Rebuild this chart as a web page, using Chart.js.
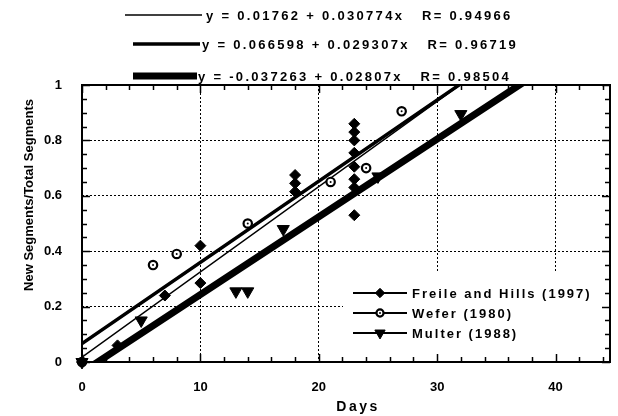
<!DOCTYPE html>
<html>
<head>
<meta charset="utf-8">
<script src="https://cdn.jsdelivr.net/npm/chart.js@4.4.1/dist/chart.umd.min.js"></script>
<style>
  html, body { margin: 0; padding: 0; background: #fff; }
  #wrap { width: 618px; height: 416px; }
</style>
</head>
<body>
<div id="wrap"><canvas id="chart" width="618" height="416"></canvas></div>
<script>
// values
const freileDays  = [0, 3, 7, 10, 10, 18, 18, 18, 23, 23, 23, 23, 23, 23, 23, 23];
const freileRatio = [0, 0.06, 0.24, 0.285, 0.42, 0.615, 0.645, 0.675, 0.53, 0.63, 0.66, 0.705, 0.755, 0.80, 0.83, 0.86];
const weferDays   = [0, 6, 8, 14, 21, 24, 27];
const weferRatio  = [0, 0.35, 0.39, 0.50, 0.65, 0.70, 0.905];
const multerDays  = [0, 5, 13, 14, 17, 25, 32];
const multerRatio = [0, 0.15, 0.255, 0.255, 0.48, 0.67, 0.895];

// regression lines printed above the plot
const fitIntercept = [0.01762, 0.066598, -0.037263];
const fitSlope     = [0.030774, 0.029307, 0.02807];
const fitR         = [0.94966, 0.96719, 0.98504];
const fitEndDay    = [31.9, 31.9, 37.8];   // where each drawn line stops

const seriesNames = ['Freile and Hills (1997)', 'Wefer (1980)', 'Multer (1988)'];
const xTickValues = [0, 10, 20, 30, 40];
const yTickValues = [0, 0.2, 0.4, 0.6, 0.8, 1];
const yTickLabels = ['0', '0.2', '0.4', '0.6', '0.8', '1'];

const FONT = "'Liberation Sans', Arial, sans-serif";
const fitWidths = [1.5, 3.5, 7];

const pts = (xs, ys) => xs.map((v, i) => ({ x: v, y: ys[i] }));
const fitLine = i => [0, fitEndDay[i]].map(d => ({ x: d, y: fitIntercept[i] + fitSlope[i] * d }));
const fitText = i => `y = ${fitIntercept[i]} + ${fitSlope[i]}x   R= ${fitR[i]}`;

const markerSets = [
  { label: seriesNames[0], data: pts(freileDays, freileRatio), pointStyle: 'rectRot', pointRadius: 5.5,
    backgroundColor: '#000', borderColor: '#000', borderWidth: 1 },
  { label: seriesNames[1], data: pts(weferDays, weferRatio), pointStyle: 'circle', pointRadius: 4.2,
    backgroundColor: '#fff', borderColor: '#000', borderWidth: 2.2 },
  { label: seriesNames[2], data: pts(multerDays, multerRatio), pointStyle: 'triangle', pointRotation: 180, pointRadius: 7,
    backgroundColor: '#000', borderColor: '#000', borderWidth: 1 }
].map(d => Object.assign(d, { showLine: false, order: 1, clip: false, pointHoverRadius: d.pointRadius }));

const lineSets = fitIntercept.map((_, i) => ({
  label: 'fit' + i, data: fitLine(i), showLine: true, pointRadius: 0, borderColor: '#000',
  borderWidth: fitWidths[i], borderCapStyle: 'round', order: 2
}));

function mark(ctx, ds, px, py, k) {
  ctx.save();
  ctx.fillStyle = ds.backgroundColor;
  ctx.strokeStyle = ds.borderColor;
  ctx.lineWidth = ds.borderWidth;
  Chart.helpers.drawPoint(ctx, {
    pointStyle: ds.pointStyle, rotation: ds.pointRotation || 0,
    radius: ds.pointRadius * k, borderWidth: ds.borderWidth
  }, px, py);
  ctx.restore();
  if (ds.pointStyle === 'circle') {
    ctx.beginPath();
    ctx.arc(px, py, 1, 0, Math.PI * 2);
    ctx.fillStyle = '#000';
    ctx.fill();
  }
}

const decor = {
  id: 'decor',
  afterDatasetsDraw(chart) {
    const { ctx, chartArea: a, scales: { x, y } } = chart;

    // dot in the middle of the open circles
    chart.getDatasetMeta(1).data.forEach(el => {
      ctx.beginPath();
      ctx.arc(el.x, el.y, 1, 0, Math.PI * 2);
      ctx.fillStyle = '#000';
      ctx.fill();
    });

    // legend in the lower right
    ctx.fillStyle = '#fff';
    ctx.fillRect(343, 272, a.right - 343, a.bottom - 272);
    const rows = [293, 313, 333];
    markerSets.forEach((ds, i) => {
      ctx.beginPath();
      ctx.moveTo(353, rows[i]);
      ctx.lineTo(407, rows[i]);
      ctx.lineWidth = 2;
      ctx.strokeStyle = '#000';
      ctx.stroke();
      mark(ctx, ds, 380, rows[i], 0.85);
      ctx.fillStyle = '#000';
      ctx.font = `bold 13px ${FONT}`;
      ctx.letterSpacing = '2px';
      ctx.textAlign = 'left';
      ctx.textBaseline = 'middle';
      ctx.fillText(ds.label, 412, rows[i] + 1);
      ctx.letterSpacing = '0px';
    });

    // frame with inward ticks on all four sides
    ctx.save();
    ctx.strokeStyle = '#000';
    ctx.lineWidth = 1.5;
    ctx.beginPath();
    for (let d = 0; d <= x.max; d += 2) {
      const px = Math.round(x.getPixelForValue(d)) + 0.5;
      const len = d % 10 === 0 ? 8 : 5;
      ctx.moveTo(px, a.bottom); ctx.lineTo(px, a.bottom - len);
      ctx.moveTo(px, a.top); ctx.lineTo(px, a.top + len);
    }
    for (let k = 0; k <= 20; k++) {
      const py = Math.round(y.getPixelForValue(k * 0.05)) + 0.5;
      const len = k % 4 === 0 ? 8 : 5;
      ctx.moveTo(a.left, py); ctx.lineTo(a.left + len, py);
      ctx.moveTo(a.right, py); ctx.lineTo(a.right - len, py);
    }
    ctx.stroke();
    ctx.lineWidth = 2;
    ctx.strokeRect(a.left, a.top, a.right - a.left, a.bottom - a.top);
    ctx.restore();
  },
  afterDraw(chart) {
    const ctx = chart.ctx;
    ctx.save();
    ctx.fillStyle = '#000';
    ctx.strokeStyle = '#000';

    // fit equations above the plot
    const rowY = [15, 44, 76];
    const lineX0 = [125, 133, 133];
    const lineX1 = [202, 200, 197];
    const textX = [206, 202, 198];
    fitIntercept.forEach((_, i) => {
      ctx.beginPath();
      ctx.lineWidth = fitWidths[i];
      ctx.moveTo(lineX0[i], rowY[i]);
      ctx.lineTo(lineX1[i], rowY[i]);
      ctx.stroke();
      ctx.font = `bold 13px ${FONT}`;
      ctx.letterSpacing = '2.3px';
      ctx.textAlign = 'left';
      ctx.textBaseline = 'middle';
      ctx.fillText(fitText(i), textX[i], rowY[i] + 1);
    });

    // axis titles
    ctx.font = `bold 14px ${FONT}`;
    ctx.letterSpacing = '2.5px';
    ctx.textAlign = 'center';
    ctx.fillText('Days', 358, 407);

    ctx.letterSpacing = '0px';
    ctx.font = `bold 13px ${FONT}`;
    ctx.translate(29, 195);
    ctx.rotate(-Math.PI / 2);
    ctx.fillText('New Segments/Total Segments', 0, 0);
    ctx.restore();
  }
};

const tickFont = { family: FONT, size: 13, weight: 'bold' };

new Chart(document.getElementById('chart'), {
  type: 'scatter',
  data: { datasets: [...markerSets, ...lineSets] },
  options: {
    responsive: false,
    animation: false,
    devicePixelRatio: 1,
    layout: { padding: { top: 85, right: 3, left: 0, bottom: 0 } },
    plugins: { legend: { display: false }, tooltip: { enabled: false } },
    scales: {
      x: {
        type: 'linear', min: 0, max: 44.6,
        afterBuildTicks: s => { s.ticks = xTickValues.map(v => ({ value: v })); },
        afterFit: s => { s.height = 54; },
        grid: { color: '#000', lineWidth: 1, drawTicks: false },
        border: { display: false, dash: [2, 2] },
        ticks: { color: '#000', font: tickFont, padding: 18, maxRotation: 0, autoSkip: false }
      },
      y: {
        type: 'linear', min: 0, max: 1,
        afterBuildTicks: s => { s.ticks = yTickValues.map(v => ({ value: v })); },
        afterFit: s => { s.width = 82; },
        grid: { color: '#000', lineWidth: 1, drawTicks: false },
        border: { display: false, dash: [2, 2] },
        ticks: {
          color: '#000', font: tickFont, padding: 20, autoSkip: false,
          callback: (v, i) => yTickLabels[i]
        }
      }
    }
  },
  plugins: [decor]
});
</script>
</body>
</html>
